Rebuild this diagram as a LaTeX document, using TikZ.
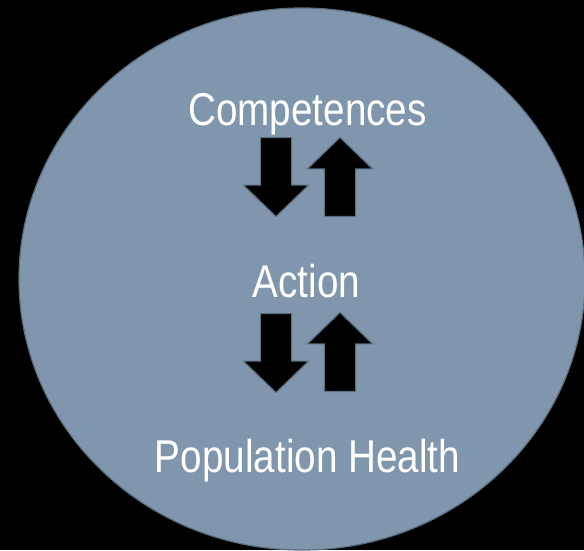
\documentclass[tikz,border=0pt]{standalone}
\usepackage{fontspec}
\newfontfamily\narrowsans{Liberation Sans}[FakeStretch=0.84]
\usetikzlibrary{
  shapes.geometric, % ellipse
  shapes.arrows,    % single arrow
  positioning,
}
\definecolor{slate}{RGB}{127,150,173}
\definecolor{slateline}{RGB}{92,111,129}
\tikzset{
  semithick,
  disc/.style={
    ellipse,
    fill=slate,
    draw=slateline,
    line width=1.2pt,
    inner sep=0pt
  },
  my label/.style={
    text=white,
    font=\narrowsans\fontsize{46}{55}\selectfont,
    inner sep=0pt,
    anchor=base
  },
  block arrow/.style={
    single arrow,
    draw=slateline,
    fill=black,
    line width=1.2pt,
    minimum height=79pt,
    single arrow head extend=17pt,
    single arrow tip angle=92,
    inner sep=15pt,
    anchor=tail
  },
  arrow down/.style={block arrow, shape border rotate=270},
  arrow up/.style={block arrow, shape border rotate=90}
}
\begin{document}
\begin{tikzpicture}[x=1pt,y=-1pt]
\fill[black] (0,0) rectangle (584,550);
\useasboundingbox (0,0) rectangle (584,550);
\node[disc, minimum width=566pt, minimum height=542pt] (disc) at (302,279) {};
% labels
\node[my label] (comp) at (307.5,125) {Competences};
\node[my label] (act)  at (306.5,297) {Action};
\node[my label] (pop)  at (307.5,472) {Population Health};
% arrows between the levels
\node[arrow down] (comp2act) at (276,137) {};
\node[arrow up]   (act2comp) at (340,217) {};
\node[arrow down] (act2pop)  at (276,313) {};
\node[arrow up]   (pop2act)  at (340,392) {};
\end{tikzpicture}
\end{document}
